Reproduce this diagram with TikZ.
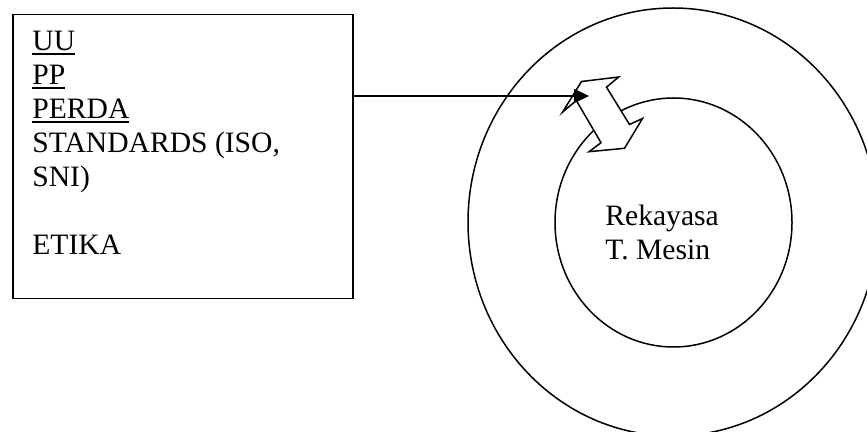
\documentclass[tikz,border=0pt]{standalone}
\usepackage{fontspec}
\setmainfont{Liberation Serif}
\usetikzlibrary{arrows.meta}
\newcommand{\myul}[1]{\setbox0\hbox{#1}\rlap{\rule[-2pt]{\wd0}{0.8pt}}\box0}
\tikzset{
  txt/.style={anchor=base west, inner sep=0pt, font=\fontsize{14.8}{17}\selectfont},
  frame/.style={draw, line width=0.75pt},
}
\begin{document}
\begin{tikzpicture}[x=0.5pt,y=-0.5pt]
\useasboundingbox (0,0) rectangle (867,432);
\fill[white] (0,0) rectangle (867,432);
\clip (0,0) rectangle (867,432);
% left box
\node[frame, anchor=north west, inner sep=0pt, minimum width=170pt, minimum height=142pt] (box) at (12,14) {};
\node[txt] (uu) at (32,51) {\myul{UU}};
\node[txt] (pp) at (32,85) {\myul{PP}};
\node[txt] (perda) at (32,119) {\myul{PERDA}};
\node[txt] (std) at (32,153) {STANDARDS (ISO,};
\node[txt] (sni) at (32,187) {SNI)};
\node[txt] (etika) at (32,255) {ETIKA};
% circles
\draw[line width=0.75pt] (673,222) ellipse [x radius=102.5pt, y radius=107pt];
\draw[line width=0.75pt] (673.5,222.5) ellipse [x radius=59.25pt, y radius=62.25pt];
\node[txt] (rek) at (605,226) {Rekayasa};
\node[txt] (tm) at (605,260) {T. Mesin};
% double arrow
\draw[line width=0.75pt, fill=white, line join=miter]
  (581.5,81.5) -- (618.7,77) -- (606.5,87.2) -- (629.5,124.5) -- (642.5,118.5)
  -- (624.5,148.3) -- (589,151.7) -- (601,142.7) -- (576.3,100.5) -- (562.5,112.2) -- cycle;
% connector
\coordinate (tip) at (589,96);
\draw[line width=0.75pt, -{Triangle[length=7.5pt,width=7pt]}] (box.east |- tip) -- (tip);
\end{tikzpicture}
\end{document}
